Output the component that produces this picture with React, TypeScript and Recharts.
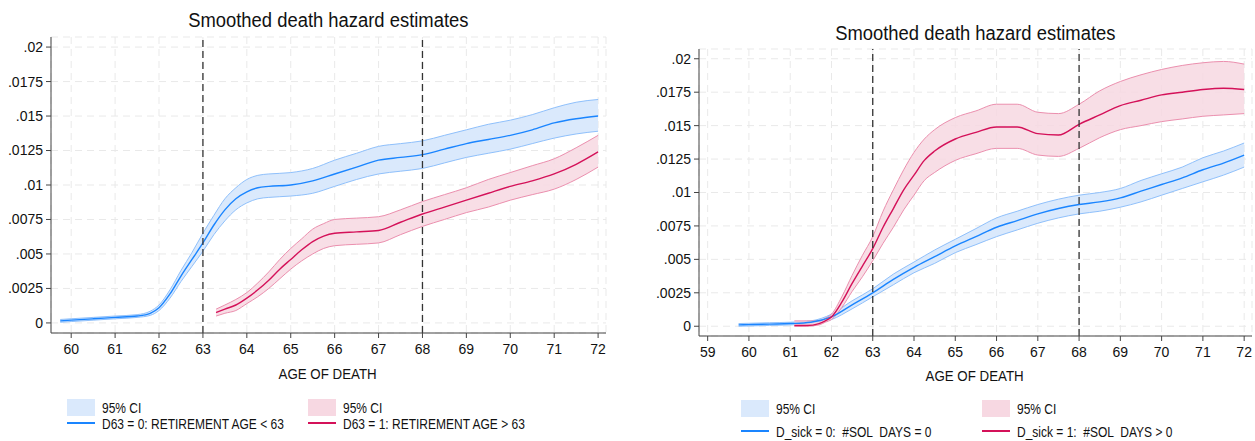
import React from "react";
import { ComposedChart, Area, Line, XAxis, YAxis, CartesianGrid, ReferenceLine } from "recharts";

// left panel: D63 groups
const L_BLUE_AGE = [59.75, 60, 60.5, 61, 61.5, 61.8, 62, 62.25, 62.5, 62.75, 63, 63.25, 63.5, 63.75, 64, 64.25, 64.5, 65, 65.5, 66, 66.5, 67, 67.5, 68, 68.5, 69, 69.5, 70, 70.5, 71, 71.5, 72];
const L_BLUE = [0.00015, 0.0002, 0.0003, 0.0004, 0.0005, 0.0007, 0.0011, 0.0021, 0.0034, 0.0046, 0.0058, 0.0071, 0.0082, 0.009, 0.0095, 0.0098, 0.0099, 0.01, 0.0103, 0.0108, 0.0113, 0.0118, 0.012, 0.0122, 0.0126, 0.013, 0.0133, 0.0136, 0.014, 0.0145, 0.0148, 0.015];
const L_BLUE_LO = [0.00005, 0.0001, 0.0002, 0.0003, 0.0004, 0.00055, 0.0009, 0.0018, 0.003, 0.0041, 0.0052, 0.0064, 0.0074, 0.0082, 0.0087, 0.009, 0.0091, 0.0092, 0.0094, 0.0099, 0.0104, 0.0108, 0.011, 0.0112, 0.0116, 0.012, 0.0123, 0.0126, 0.013, 0.0134, 0.0137, 0.0139];
const L_BLUE_HI = [0.00025, 0.0003, 0.0004, 0.0005, 0.0006, 0.00085, 0.0013, 0.0024, 0.0038, 0.0051, 0.0065, 0.0078, 0.009, 0.0098, 0.0104, 0.0107, 0.0108, 0.0109, 0.0112, 0.0118, 0.0123, 0.0128, 0.013, 0.0132, 0.0136, 0.014, 0.0144, 0.0147, 0.0151, 0.0156, 0.016, 0.0162];

const L_PINK_AGE = [63.3, 63.5, 63.75, 64, 64.25, 64.5, 64.75, 65, 65.25, 65.5, 65.75, 66, 66.5, 67, 67.5, 68, 68.5, 69, 69.5, 70, 70.5, 71, 71.5, 72];
const L_PINK = [0.00075, 0.001, 0.0013, 0.0018, 0.0024, 0.0031, 0.0039, 0.0046, 0.0053, 0.0059, 0.0063, 0.0065, 0.0066, 0.0067, 0.0073, 0.0079, 0.0084, 0.0089, 0.0094, 0.0099, 0.0103, 0.0108, 0.0115, 0.0124];
const L_PINK_LO = [0.0005, 0.0007, 0.0009, 0.0014, 0.0019, 0.0025, 0.0032, 0.0039, 0.0045, 0.005, 0.0054, 0.0056, 0.0057, 0.0058, 0.0064, 0.007, 0.0075, 0.008, 0.0084, 0.0089, 0.0093, 0.0097, 0.0104, 0.0113];
const L_PINK_HI = [0.001, 0.0013, 0.0017, 0.0022, 0.0029, 0.0037, 0.0046, 0.0054, 0.0061, 0.0068, 0.0072, 0.0075, 0.0076, 0.0077, 0.0082, 0.0088, 0.0093, 0.0098, 0.0104, 0.0109, 0.0114, 0.0119, 0.0127, 0.0136];

// right panel: D_sick groups
const R_BLUE_AGE = [59.75, 60, 60.5, 61, 61.5, 62, 62.5, 63, 63.5, 64, 64.5, 65, 65.5, 66, 66.5, 67, 67.5, 68, 68.5, 69, 69.5, 70, 70.5, 71, 71.5, 72];
const R_BLUE = [0.0001, 0.00012, 0.00016, 0.0002, 0.0003, 0.0007, 0.0016, 0.0025, 0.0035, 0.0044, 0.0052, 0.006, 0.0067, 0.0074, 0.0079, 0.0084, 0.0088, 0.0091, 0.0093, 0.0096, 0.0101, 0.0106, 0.0111, 0.0117, 0.0122, 0.0128];
const R_BLUE_LO = [0, 0.00002, 0.00006, 0.0001, 0.0002, 0.0005, 0.0013, 0.0022, 0.0031, 0.004, 0.0047, 0.0055, 0.0061, 0.0067, 0.0072, 0.0077, 0.0081, 0.0084, 0.0086, 0.0089, 0.0093, 0.0098, 0.0103, 0.0108, 0.0113, 0.0119];
const R_BLUE_HI = [0.0002, 0.00022, 0.00026, 0.0003, 0.0004, 0.0009, 0.0019, 0.0028, 0.0039, 0.0048, 0.0057, 0.0065, 0.0073, 0.0081, 0.0086, 0.0091, 0.0095, 0.0098, 0.01, 0.0103, 0.0109, 0.0114, 0.0119, 0.0126, 0.0131, 0.0137];

const R_PINK_AGE = [61.1, 61.4, 61.7, 61.85, 62, 62.25, 62.5, 62.75, 63, 63.25, 63.5, 63.75, 64, 64.25, 64.5, 65, 65.5, 66, 66.5, 67, 67.5, 68, 68.5, 69, 69.5, 70, 70.5, 71, 71.5, 72];
const R_PINK = [0.00005, 0.00005, 0.0002, 0.0004, 0.0007, 0.0018, 0.0032, 0.0045, 0.0058, 0.0074, 0.0088, 0.0102, 0.0113, 0.0124, 0.0131, 0.014, 0.0145, 0.0149, 0.0149, 0.0144, 0.0143, 0.0151, 0.0158, 0.0165, 0.0169, 0.0173, 0.0175, 0.0177, 0.0178, 0.0177];
const R_PINK_LO = [0, 0, 0.0001, 0.0003, 0.0005, 0.0014, 0.0026, 0.0037, 0.0049, 0.0062, 0.0074, 0.0087, 0.0098, 0.0109, 0.0115, 0.0124, 0.0129, 0.0133, 0.0133, 0.0128, 0.0127, 0.0133, 0.0141, 0.0147, 0.015, 0.0153, 0.0155, 0.0157, 0.0158, 0.0159];
const R_PINK_HI = [0.0004, 0.0004, 0.0004, 0.0006, 0.0009, 0.0022, 0.0038, 0.0053, 0.0067, 0.0086, 0.0102, 0.0117, 0.013, 0.014, 0.0147, 0.0156, 0.0161, 0.0166, 0.0166, 0.016, 0.0159, 0.0166, 0.0176, 0.0183, 0.0188, 0.0192, 0.0195, 0.0197, 0.0198, 0.0196];

const Y_TICKS = [0, 0.0025, 0.005, 0.0075, 0.01, 0.0125, 0.015, 0.0175, 0.02];
const L_X_TICKS = [60, 61, 62, 63, 64, 65, 66, 67, 68, 69, 70, 71, 72];
const R_X_TICKS = [59, 60, 61, 62, 63, 64, 65, 66, 67, 68, 69, 70, 71, 72];
const CUTOFFS = [63, 68];

const BLUE = "#1a85ff";
const BLUE_EDGE = "#8fc0fb";
const BLUE_FILL = "#dae9fc";
const PINK = "#d41159";
const PINK_EDGE = "#eb8fae";
const PINK_FILL = "#f7d8e2";
const FONT = "'Liberation Sans', Arial, sans-serif";

function buildRows(bAge: number[], b: number[], bLo: number[], bHi: number[], pAge: number[], p: number[], pLo: number[], pHi: number[]) {
  const ages = Array.from(new Set([...bAge, ...pAge])).sort((a, c) => a - c);
  return ages.map((age) => {
    const i = bAge.indexOf(age);
    const j = pAge.indexOf(age);
    return {
      age,
      blue: i >= 0 ? b[i] : null,
      blueBand: i >= 0 ? [bLo[i], bHi[i]] : null,
      pink: j >= 0 ? p[j] : null,
      pinkBand: j >= 0 ? [pLo[j], pHi[j]] : null,
    };
  });
}

const fmtY = (v: number) => (v === 0 ? "0" : String(v).replace(/^0/, ""));

function Panel({ rows, xDomain, xTicks, width, height, margin, yWidth }: any) {
  const tick = { fill: "#111", fontSize: 14, fontFamily: FONT };
  return (
    <ComposedChart width={width} height={height} data={rows} margin={margin}>
      <CartesianGrid stroke="#e9e9e9" strokeDasharray="7 5" />
      <XAxis type="number" dataKey="age" domain={xDomain} ticks={xTicks} allowDataOverflow
        stroke="#444" tickSize={5} tickMargin={6} tick={tick} height={30} />
      <YAxis type="number" domain={[-0.00073, 0.02073]} ticks={Y_TICKS} allowDataOverflow
        stroke="#444" tickSize={5} tickMargin={3} tick={tick} width={yWidth} tickFormatter={fmtY} />
      <Area dataKey="blueBand" type="monotone" stroke={BLUE_EDGE} strokeWidth={1} fill={BLUE_FILL} fillOpacity={1} connectNulls isAnimationActive={false} dot={false} activeDot={false} />
      <Area dataKey="pinkBand" type="monotone" stroke={PINK_EDGE} strokeWidth={1} fill={PINK_FILL} fillOpacity={0.85} connectNulls isAnimationActive={false} dot={false} activeDot={false} />
      <Line dataKey="blue" type="monotone" stroke={BLUE} strokeWidth={1.4} dot={false} connectNulls isAnimationActive={false} />
      <Line dataKey="pink" type="monotone" stroke={PINK} strokeWidth={1.4} dot={false} connectNulls isAnimationActive={false} />
      {CUTOFFS.map((c) => (
        <ReferenceLine key={c} x={c} stroke="#333" strokeWidth={1.3} strokeDasharray="7 4" />
      ))}
    </ComposedChart>
  );
}

function Txt({ x, y, size, children, scale = 1, center = false }: any) {
  return (
    <div style={{ position: "absolute", left: center ? x - 300 : x, top: y, width: center ? 600 : undefined,
      textAlign: center ? "center" : "left", fontFamily: FONT, fontSize: size, lineHeight: 1, color: "#111", whiteSpace: "pre" }}>
      <span style={{ display: "inline-block", transform: `translateY(-50%) scaleX(${scale})`, transformOrigin: center ? "center" : "left" }}>{children}</span>
    </div>
  );
}

function Legend({ x, y1, y2, labels }: any) {
  const items = [
    { dx: 0, fill: BLUE_FILL, line: BLUE, label: labels[0] },
    { dx: 241, fill: PINK_FILL, line: PINK, label: labels[1] },
  ];
  return (
    <>
      {items.map((it, k) => (
        <React.Fragment key={k}>
          <div style={{ position: "absolute", left: x + it.dx, top: y1 - 8, width: 28, height: 17, background: it.fill }} />
          <Txt x={x + it.dx + 35} y={y1} size={15} scale={0.8}>95% CI</Txt>
          <div style={{ position: "absolute", left: x + it.dx, top: y2 - 1, width: 28, height: 1.6, background: it.line }} />
          <Txt x={x + it.dx + 35} y={y2} size={15} scale={0.8}>{it.label}</Txt>
        </React.Fragment>
      ))}
    </>
  );
}

export default function App() {
  const left = buildRows(L_BLUE_AGE, L_BLUE, L_BLUE_LO, L_BLUE_HI, L_PINK_AGE, L_PINK, L_PINK_LO, L_PINK_HI);
  const right = buildRows(R_BLUE_AGE, R_BLUE, R_BLUE_LO, R_BLUE_HI, R_PINK_AGE, R_PINK, R_PINK_LO, R_PINK_HI);
  return (
    <div style={{ position: "absolute", left: 0, top: 0, width: 1255, height: 441, background: "#fff", overflow: "hidden" }}>
      <div style={{ position: "absolute", left: 0, top: 0 }}>
        <Panel rows={left} xDomain={[59.54, 72.18]} xTicks={L_X_TICKS} width={620} height={441}
          margin={{ top: 37, right: 14, bottom: 78, left: 0 }} yWidth={51} />
      </div>
      <div style={{ position: "absolute", left: 640, top: 0 }}>
        <Panel rows={right} xDomain={[58.79, 72.19]} xTicks={R_X_TICKS} width={615} height={441}
          margin={{ top: 49, right: 3, bottom: 75, left: 0 }} yWidth={59} />
      </div>
      <Txt x={328} y={20} size={20} scale={0.92} center>Smoothed death hazard estimates</Txt>
      <Txt x={975} y={33} size={20} scale={0.92} center>Smoothed death hazard estimates</Txt>
      <Txt x={328} y={374} size={14} scale={0.95} center>AGE OF DEATH</Txt>
      <Txt x={975} y={376} size={14} scale={0.95} center>AGE OF DEATH</Txt>
      <Legend x={67} y1={407} y2={423} labels={["D63 = 0: RETIREMENT AGE < 63", "D63 = 1: RETIREMENT AGE > 63"]} />
      <Legend x={741} y1={408} y2={431} labels={["D_sick = 0:  #SOL  DAYS = 0", "D_sick = 1:  #SOL  DAYS > 0"]} />
    </div>
  );
}
